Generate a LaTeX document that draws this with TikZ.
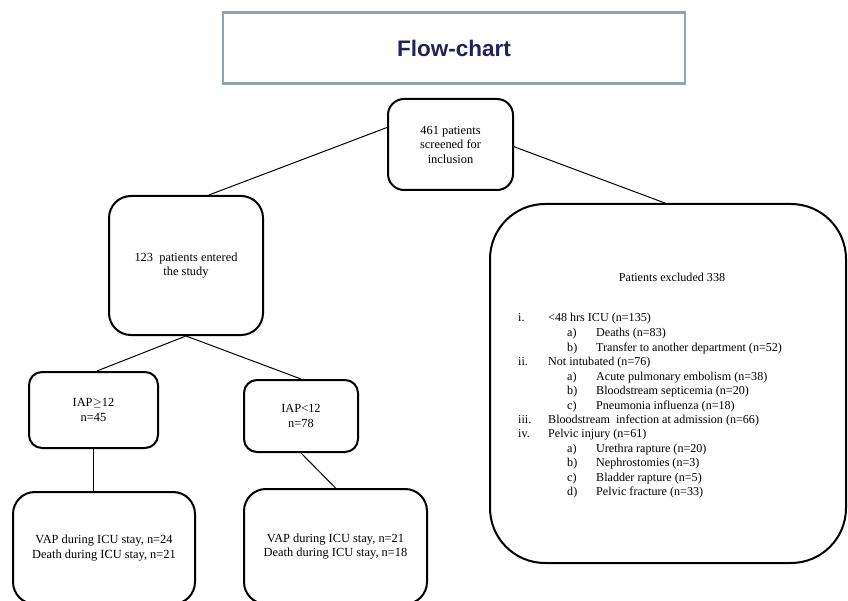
\documentclass[tikz,border=0pt]{standalone}
\usepackage{fontspec}
\setmainfont{Liberation Serif}
\newfontfamily\titlefont{Liberation Sans}
\definecolor{titleline}{HTML}{8FA7AA}
\definecolor{titletext}{HTML}{22225A}
\begin{document}
\begin{tikzpicture}[x=1pt,y=-1pt,
  box/.style={draw=black,line width=2pt,rectangle,inner sep=0pt,align=center,
    font=\fontsize{12.4}{14.5}\selectfont},
  conn/.style={draw=black,line width=1pt},
  itemtxt/.style={inner sep=0pt,anchor=west,text height=8.5pt,text depth=3pt,
    font=\fontsize{12.1}{14.5}\selectfont}]
\useasboundingbox (0,0) rectangle (848,601);
% title
\node[draw=titleline,line width=2.5pt,rectangle,minimum width=462pt,minimum height=71pt,inner sep=0pt] (titlebox) at (454,48) {};
\node[inner sep=0pt,font=\titlefont\bfseries\fontsize{22.5}{26}\selectfont,text=titletext] (title) at (454,48) {Flow-chart};
% boxes
\node[box,rounded corners=16pt,minimum width=125pt,minimum height=91pt] (root) at (450.5,144.5) {461 patients\\screened for\\inclusion};
\node[box,rounded corners=22pt,minimum width=154pt,minimum height=139pt] (entered) at (186,265.5) {123\ \ patients entered\\the study};
\node[box,rounded corners=55pt,minimum width=356pt,minimum height=359pt] (excl) at (668,383.5) {};
\node[inner sep=0pt,font=\fontsize{12.1}{14.5}\selectfont] (exhead) at (672,277) {Patients excluded 338};
\node[box,rounded corners=13pt,minimum width=129pt,minimum height=76pt] (iapge) at (93.5,410) {IAP$\geq$12\\n=45};
\node[box,rounded corners=13pt,minimum width=114pt,minimum height=72pt] (iaplt) at (301,416) {IAP\textless12\\n=78};
\node[box,rounded corners=22pt,minimum width=182pt,minimum height=112pt] (vap1) at (104,548) {VAP during ICU stay, n=24\\Death during ICU stay, n=21};
\node[box,rounded corners=22pt,minimum width=183pt,minimum height=115pt] (vap2) at (335.5,546.5) {VAP during ICU stay, n=21\\Death during ICU stay, n=18};
% list in exclusion box
\foreach \yy/\lab/\txt [count=\k] in {
  319/i./{\textless48 hrs ICU (n=135)},
  363/ii./{Not intubated (n=76)},
  421/iii./{Bloodstream\ \ infection at admission (n=66)},
  435/iv./{Pelvic injury (n=61)}}{
  \node[itemtxt] (mainlab\k) at (518,\yy) {\lab};
  \node[itemtxt] (maintxt\k) at (548,\yy) {\txt};
}
\foreach \yy/\lab/\txt [count=\k] in {
  334/a)/{Deaths (n=83)},
  349/b)/{Transfer to another department (n=52)},
  378/a)/{Acute pulmonary embolism (n=38)},
  392/b)/{Bloodstream septicemia (n=20)},
  407/c)/{Pneumonia influenza (n=18)},
  450/a)/{Urethra rapture (n=20)},
  464/b)/{Nephrostomies (n=3)},
  479/c)/{Bladder rapture (n=5)},
  493/d)/{Pelvic fracture (n=33)}}{
  \node[itemtxt] (sublab\k) at (567,\yy) {\lab};
  \node[itemtxt] (subtxt\k) at (596,\yy) {\txt};
}
% connectors
\draw[conn] (root.165) -- (entered.72);
\draw[conn] (root.-2) -- (excl.91);
\draw[conn] (entered.south) -- (iapge.85);
\draw[conn] (entered.south) -- (iaplt.north);
\draw[conn] (iapge.south) -- (iapge.south |- vap1.north);
\draw[conn] (iaplt.south) -- (vap2.north);
\end{tikzpicture}
\end{document}
